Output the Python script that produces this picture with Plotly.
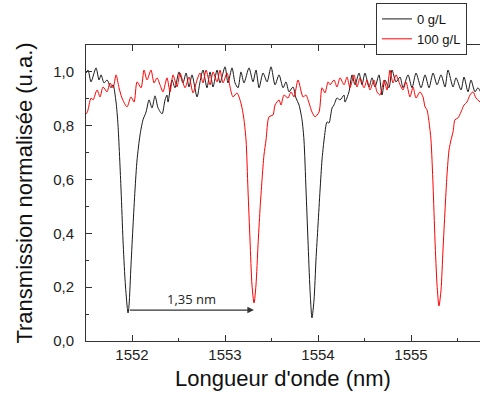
import plotly.graph_objects as go

# 0 g/L series (wavelength nm, normalized transmission)
wl_0 = [1551.505, 1551.527, 1551.559, 1551.613, 1551.645, 1551.667, 1551.699, 1551.731, 1551.774, 1551.796,
        1551.828, 1551.849, 1551.882, 1551.903, 1551.925, 1551.946, 1551.957, 1551.968, 1551.989, 1552.011,
        1552.032, 1552.054, 1552.086, 1552.118, 1552.151, 1552.183, 1552.215, 1552.247, 1552.280, 1552.323,
        1552.355, 1552.376, 1552.387, 1552.430, 1552.462, 1552.505, 1552.548, 1552.581, 1552.613, 1552.645,
        1552.699, 1552.731, 1552.763, 1552.806, 1552.839, 1552.871, 1552.914, 1552.946, 1553.000, 1553.032,
        1553.075, 1553.108, 1553.140, 1553.172, 1553.204, 1553.258, 1553.301, 1553.333, 1553.366, 1553.409,
        1553.452, 1553.495, 1553.538, 1553.581, 1553.624, 1553.656, 1553.688, 1553.731, 1553.763, 1553.796,
        1553.828, 1553.849, 1553.871, 1553.892, 1553.914, 1553.935, 1553.957, 1553.978, 1554.000, 1554.022,
        1554.043, 1554.065, 1554.097, 1554.118, 1554.151, 1554.172, 1554.204, 1554.237, 1554.280, 1554.290,
        1554.333, 1554.366, 1554.398, 1554.441, 1554.473, 1554.505, 1554.548, 1554.581, 1554.613, 1554.656,
        1554.688, 1554.720, 1554.763, 1554.796, 1554.839, 1554.882, 1554.914, 1554.968, 1555.011, 1555.054,
        1555.108, 1555.151, 1555.194, 1555.237, 1555.280, 1555.323, 1555.366, 1555.398, 1555.452, 1555.484,
        1555.538, 1555.570, 1555.613, 1555.645, 1555.688, 1555.720, 1555.763]
tr_0 = [0.996, 1.007, 0.963, 1.015, 0.970, 0.989, 0.959, 0.970, 0.941, 0.952,
        0.888, 0.803, 0.561, 0.375, 0.227, 0.134, 0.104, 0.134, 0.283, 0.431,
        0.561, 0.673, 0.766, 0.822, 0.851, 0.896, 0.866, 0.911, 0.866, 0.844,
        0.896, 0.914, 0.888, 0.970, 0.941, 1.000, 0.959, 0.996, 0.944, 0.989,
        0.907, 0.963, 1.007, 0.941, 1.000, 0.944, 1.007, 0.959, 1.019, 0.959,
        1.015, 0.959, 0.941, 1.000, 0.959, 1.015, 0.963, 1.007, 0.941, 0.996,
        0.963, 1.019, 0.952, 0.989, 0.941, 0.963, 0.926, 0.944, 0.903, 0.877,
        0.822, 0.747, 0.561, 0.375, 0.190, 0.086, 0.152, 0.301, 0.431, 0.561,
        0.673, 0.747, 0.814, 0.810, 0.866, 0.877, 0.903, 0.896, 0.914, 0.888,
        0.926, 0.989, 0.952, 0.996, 0.952, 0.996, 0.944, 0.978, 0.944, 0.989,
        0.914, 0.970, 0.941, 1.007, 0.963, 0.981, 0.941, 0.989, 0.941, 0.996,
        0.941, 0.989, 0.941, 0.996, 0.952, 0.989, 0.944, 1.007, 0.944, 0.978,
        0.933, 0.981, 0.926, 0.970, 0.926, 0.941, 0.914]

# 100 g/L series
wl_100 = [1551.484, 1551.516, 1551.559, 1551.581, 1551.624, 1551.656, 1551.688, 1551.731, 1551.763, 1551.796,
          1551.828, 1551.860, 1551.892, 1551.946, 1551.989, 1552.022, 1552.054, 1552.097, 1552.129, 1552.161,
          1552.204, 1552.237, 1552.269, 1552.301, 1552.333, 1552.376, 1552.409, 1552.441, 1552.484, 1552.516,
          1552.570, 1552.613, 1552.656, 1552.699, 1552.731, 1552.763, 1552.796, 1552.839, 1552.871, 1552.914,
          1552.946, 1552.978, 1553.022, 1553.054, 1553.086, 1553.129, 1553.161, 1553.183, 1553.204, 1553.226,
          1553.247, 1553.269, 1553.290, 1553.312, 1553.333, 1553.355, 1553.376, 1553.398, 1553.419, 1553.441,
          1553.473, 1553.516, 1553.538, 1553.581, 1553.602, 1553.634, 1553.677, 1553.710, 1553.742, 1553.785,
          1553.839, 1553.871, 1553.903, 1553.935, 1553.968, 1554.011, 1554.043, 1554.075, 1554.108, 1554.129,
          1554.172, 1554.204, 1554.237, 1554.280, 1554.312, 1554.344, 1554.387, 1554.419, 1554.452, 1554.495,
          1554.527, 1554.559, 1554.602, 1554.634, 1554.667, 1554.710, 1554.742, 1554.774, 1554.806, 1554.839,
          1554.882, 1554.914, 1554.946, 1554.989, 1555.022, 1555.054, 1555.097, 1555.129, 1555.151, 1555.172,
          1555.194, 1555.215, 1555.237, 1555.258, 1555.280, 1555.301, 1555.323, 1555.344, 1555.366, 1555.387,
          1555.409, 1555.430, 1555.452, 1555.473, 1555.505, 1555.538, 1555.570, 1555.602, 1555.634, 1555.667,
          1555.699, 1555.742]
tr_100 = [0.840, 0.848, 0.903, 0.896, 0.933, 0.907, 0.944, 0.926, 0.959, 0.941,
          0.989, 0.941, 0.903, 0.870, 0.907, 0.888, 0.963, 0.941, 1.007, 0.970,
          1.007, 0.959, 0.978, 0.952, 0.926, 0.978, 0.926, 0.989, 0.944, 0.996,
          0.941, 0.981, 0.922, 0.970, 0.996, 0.959, 1.007, 0.952, 1.000, 0.963,
          1.007, 0.959, 0.996, 0.944, 0.907, 0.922, 0.896, 0.866, 0.822, 0.747,
          0.561, 0.375, 0.208, 0.141, 0.208, 0.357, 0.487, 0.599, 0.691, 0.747,
          0.833, 0.840, 0.877, 0.896, 0.877, 0.914, 0.903, 0.926, 0.907, 0.970,
          0.907, 0.914, 0.885, 0.851, 0.833, 0.851, 0.941, 0.922, 0.963, 0.952,
          0.970, 0.944, 0.978, 0.952, 0.981, 0.941, 0.989, 0.944, 0.978, 0.941,
          0.970, 0.933, 0.970, 0.926, 0.914, 0.970, 0.933, 1.007, 0.959, 0.989,
          0.952, 0.933, 0.963, 0.907, 0.944, 0.903, 0.926, 0.907, 0.870, 0.859,
          0.814, 0.747, 0.580, 0.375, 0.208, 0.130, 0.190, 0.338, 0.487, 0.617,
          0.710, 0.747, 0.777, 0.822, 0.829, 0.851, 0.877, 0.888, 0.914, 0.926,
          0.903, 0.888]

series_names = ["0 g/L", "100 g/L"]
x_ticks = [1552, 1553, 1554, 1555]
y_ticks = [0.0, 0.2, 0.4, 0.6, 0.8, 1.0]
dip_start = 1551.96
dip_end = 1553.31
arrow_level = 0.115
arrow_label = "1,35 nm"

FONT = "Liberation Sans, Arial, sans-serif"

fig = go.Figure()
fig.add_trace(go.Scatter(x=wl_0, y=tr_0, mode="lines", name=series_names[0],
                         line=dict(color="#1a1a1a", width=1, shape="spline", smoothing=0.7)))
fig.add_trace(go.Scatter(x=wl_100, y=tr_100, mode="lines", name=series_names[1],
                         line=dict(color="#ff0000", width=1, shape="spline", smoothing=0.7)))

fig.add_annotation(x=dip_end, y=arrow_level, ax=dip_start, ay=arrow_level,
                   xref="x", yref="y", axref="x", ayref="y", text="",
                   showarrow=True, arrowhead=2, arrowsize=1, arrowwidth=1.3, arrowcolor="#333333")
fig.add_annotation(x=(dip_start + dip_end) / 2, y=arrow_level, xref="x", yref="y",
                   text=arrow_label, showarrow=False, yanchor="bottom", yshift=0,
                   font=dict(family="Open Sans, sans-serif", size=13, color="#222222"))

fig.update_layout(
    width=480, height=403,
    margin=dict(l=86, r=0, t=45, b=62, autoexpand=False),
    paper_bgcolor="white", plot_bgcolor="white",
    separators=", ",
    font=dict(family=FONT, color="#222222"),
    showlegend=True,
    legend=dict(x=0.736, y=1.142, xanchor="left", yanchor="top",
                bordercolor="#333333", borderwidth=1, bgcolor="white",
                font=dict(family=FONT, size=13, color="#111111"),
                entrywidth=110, entrywidthmode="pixels",
                tracegroupgap=0),
    xaxis=dict(range=[1551.505, 1555.742], tickvals=x_ticks, ticks="inside", ticklen=6,
               tickcolor="#333333", showline=True, linecolor="#333333", linewidth=1,
               mirror="ticks", showgrid=False, zeroline=False, automargin=False,
               minor=dict(dtick=0.5, tick0=1551.5, ticks="inside", ticklen=3, tickcolor="#333333"),
               tickfont=dict(family=FONT, size=15, color="#222222"),
               title=dict(text="Longueur d'onde (nm)", font=dict(family=FONT, size=22, color="#111111"),
                          standoff=8)),
    yaxis=dict(range=[0, 1.1], tickvals=y_ticks, tickformat=".1f", ticks="inside", ticklen=6,
               tickcolor="#333333", showline=True, linecolor="#333333", linewidth=1,
               mirror=False, showgrid=False, zeroline=False, automargin=False,
               ticklabelstandoff=8,
               minor=dict(dtick=0.1, ticks="inside", ticklen=3, tickcolor="#333333"),
               tickfont=dict(family=FONT, size=15, color="#222222"),
               title=dict(text="Transmission normalisée (u.a.)", font=dict(family=FONT, size=22, color="#111111"),
                          standoff=14)),
)

fig.write_html("out.html", config={"displayModeBar": False},
               post_script="document.body.style.margin='0';")
